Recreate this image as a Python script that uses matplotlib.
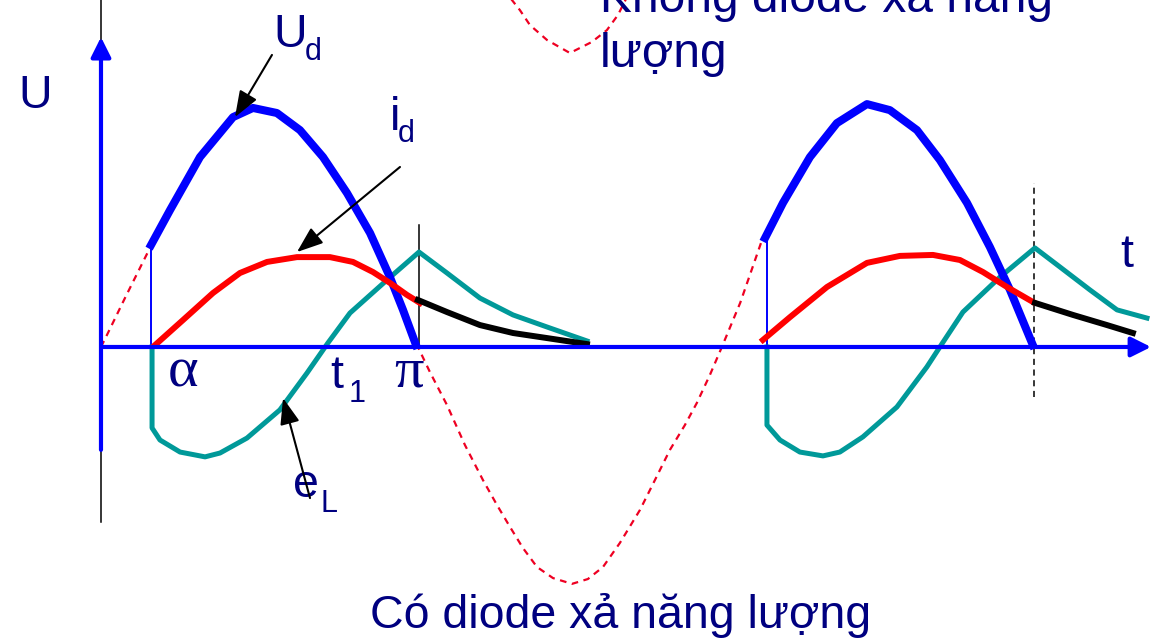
import matplotlib.pyplot as plt

plt.rcParams['font.family'] = ['Liberation Sans', 'DejaVu Sans']

# x in electrical degrees (0 at the U axis, 180 at pi), y in % of peak voltage
src_x = [0, 3.4, 13.6, 27.8, 39.2, 56.2, 75.0, 86.3, 99.9, 113.0, 126.1, 139.7, 152.8,
         164.1, 171.5, 180.0, 186.8, 196.5, 206.7, 216.9, 224.9, 232.3, 239.6, 247.6,
         256.7, 267.5, 276.5, 285.1, 294.7, 306.1, 314.6, 323.1, 331.6, 338.4, 345.8,
         352.6, 363.0, 375.4, 387.3, 402.6, 417.9, 435.0, 448.0, 463.4, 476.4, 491.8,
         504.8, 516.2, 529.2]
src_y = [0, 5.0, 20.3, 41.1, 56.8, 78.8, 95.4, 99.6, 97.1, 90.0, 78.8, 63.9, 47.3,
         29.0, 15.4, 0, -10.4, -24.1, -40.7, -55.2, -65.6, -74.7, -83.4, -91.3,
         -95.9, -98.3, -96.3, -91.3, -81.3, -67.6, -55.2, -42.7, -32.4, -23.2, -11.6,
         0, 18.3, 44.4, 59.8, 78.8, 92.9, 100.8, 98.3, 90.0, 77.6, 59.8,
         41.5, 23.7, 0]

# stray dashed trough at the top edge
top_x = [231.1, 237.9, 243.6, 253.3, 266.3, 278.8, 287.3, 293.6, 299.3]
top_y = [146.1, 139.8, 133.6, 127.4, 122.0, 126.6, 131.5, 137.8, 146.1]

ud1_x = [28.4, 39.2, 56.2, 75.0, 86.3, 99.9, 113.0, 126.1, 139.7, 152.8, 164.1, 171.5, 178.9]
ud1_y = [42.3, 56.8, 78.8, 95.4, 99.2, 97.1, 90.0, 78.8, 63.9, 47.3, 29.0, 15.4, 0.8]
ud2_x = [377.1, 387.3, 402.6, 417.9, 435.0, 448.0, 463.4, 476.4, 491.8, 504.8, 516.2, 529.2]
ud2_y = [45.2, 59.8, 78.8, 92.9, 100.8, 98.3, 90.0, 77.6, 59.8, 41.5, 23.7, 0.8]

id1_x = [30.7, 46.6, 63.6, 78.9, 94.3, 111.3, 130.0, 143.1, 154.5, 164.1, 173.8, 181.1]
id1_y = [0.8, 11.2, 22.4, 30.7, 35.3, 37.3, 37.3, 35.3, 31.1, 26.6, 21.6, 18.3]
id2_x = [375.9, 391.3, 412.3, 435.0, 453.7, 472.5, 487.8, 500.9, 514.5, 529.2]
id2_y = [2.9, 12.4, 24.9, 34.9, 37.8, 38.2, 36.1, 31.1, 24.9, 18.7]

fw1_x = [180.0, 196.5, 215.2, 234.0, 253.3, 276.0]
fw1_y = [19.5, 14.5, 9.1, 5.8, 3.7, 1.2]
fw2_x = [530.4, 552.0, 571.3, 586.0]
fw2_y = [18.3, 13.3, 9.1, 5.8]

el1_x = [29.0, 29.0, 33.5, 44.9, 59.1, 67.6, 82.9, 101.6, 117.0, 128.9, 141.4, 162.4,
         180.6, 196.5, 215.2, 234.0, 253.3, 276.0]
el1_y = [0, -33.6, -38.6, -43.6, -45.6, -44.0, -37.8, -26.1, -10.8, 1.7, 14.1, 27.8,
         39.4, 30.7, 20.3, 13.3, 8.3, 2.5]
el2_x = [378.2, 378.2, 385.6, 396.9, 410.0, 419.6, 432.7, 452.0, 469.0, 476.4, 489.5,
         510.5, 530.4, 544.6, 561.6, 577.0, 594.0]
el2_y = [0, -32.4, -38.6, -43.6, -45.2, -43.6, -37.3, -24.9, -8.3, 0, 14.5,
         29.0, 41.1, 33.2, 23.7, 15.4, 12.0]

alpha_deg = [28.4, 378.2]
alpha_top = [42.3, 45.2]

BLUE = '#0000FF'
RED = '#FF0000'
TEAL = '#009999'
NAVY = '#000080'

fig = plt.figure(figsize=(11.51, 6.40), dpi=100)
ax = fig.add_axes([0, 0, 1, 1])
ax.set_xlim(-57.35, 596.3)
ax.set_ylim(-121.6, 144.0)
ax.axis('off')

# thin black line behind the U axis
ax.plot([0, 0], [-72.6, 144.0], color='black', lw=1.1)

# supply voltage (dashed)
ax.plot(src_x, src_y, color='#EE0022', lw=1.6, dashes=(3, 2.5))
ax.plot(top_x, top_y, color='#EE0022', lw=1.6, dashes=(3, 2.5))

# axes with arrows
ax.annotate('', xy=(596.3, 0), xytext=(0, 0),
            arrowprops=dict(arrowstyle='-|>,head_length=0.6,head_width=0.3',
                            color=BLUE, lw=3, mutation_scale=20, shrinkA=0, shrinkB=0))
ax.annotate('', xy=(0, 128.6), xytext=(0, -42.7),
            arrowprops=dict(arrowstyle='-|>,head_length=0.6,head_width=0.3',
                            color=BLUE, lw=3, mutation_scale=20, shrinkA=0, shrinkB=0))

# firing instants
for xa, ya in zip(alpha_deg, alpha_top):
    ax.plot([xa, xa], [0, ya], color=BLUE, lw=1.4)
ax.plot([180.6, 180.6], [0, 50.6], color='black', lw=1.1)
ax.plot([529.8, 529.8], [-20.7, 68.0], color='black', lw=1.1, dashes=(4, 3))

ax.plot(el1_x, el1_y, color=TEAL, lw=3.6, solid_joinstyle='round')
ax.plot(el2_x, el2_y, color=TEAL, lw=3.6, solid_joinstyle='round')
ax.plot(ud1_x, ud1_y, color=BLUE, lw=5.8, solid_joinstyle='round')
ax.plot(ud2_x, ud2_y, color=BLUE, lw=5.8, solid_joinstyle='round')
ax.plot(id1_x, id1_y, color=RED, lw=4.3, solid_joinstyle='round')
ax.plot(id2_x, id2_y, color=RED, lw=4.3, solid_joinstyle='round')
ax.plot(fw1_x, fw1_y, color='black', lw=4.3)
ax.plot(fw2_x, fw2_y, color='black', lw=4.3)

# labels
big = 33.5
sub = 22
kw = dict(color=NAVY, va='baseline', ha='left')
greek = ['Liberation Serif', 'DejaVu Serif']
ax.text(-47.1, 99.2, 'U', fontsize=big, **kw)
ax.text(97.7, 124.5, 'U', fontsize=big, **kw)
ax.text(115.8, 119.1, 'd', fontsize=sub, **kw)
ax.text(164.1, 90.0, 'i', fontsize=big, **kw)
ax.text(168.7, 85.1, 'd', fontsize=sub, **kw)
ax.text(38.0, -16.6, 'α', fontsize=42, family=greek, **kw)
ax.text(130.0, -17.0, 't', fontsize=big, **kw)
ax.text(140.8, -22.8, '1', fontsize=sub, **kw)
ax.text(166.5, -16.6, 'π', fontsize=42, family=greek, **kw)
ax.text(109.0, -62.2, 'e', fontsize=big, **kw)
ax.text(124.4, -68.5, 'L', fontsize=sub, **kw)
ax.text(578.7, 33.2, 't', fontsize=big, **kw)
ax.text(283.4, 139.0, 'Không diode xả năng', fontsize=34.5, **kw)
ax.text(283.4, 116.2, 'lượng', fontsize=34.5, **kw)
ax.text(152.8, -116.6, 'Có diode xả năng lượng', fontsize=big, **kw)

# pointer arrows
arr = dict(arrowstyle='-|>,head_length=0.8,head_width=0.3', color='black',
           lw=1.5, mutation_scale=20, shrinkA=0, shrinkB=0)
ax.annotate('', xy=(76.1, 95.4), xytext=(97.1, 121.2), arrowprops=arr)
ax.annotate('', xy=(111.3, 39.4), xytext=(169.8, 74.7), arrowprops=arr)
ax.annotate('', xy=(103.4, -21.2), xytext=(118.7, -62.7), arrowprops=arr)

fig.savefig('out.png', dpi=100)
